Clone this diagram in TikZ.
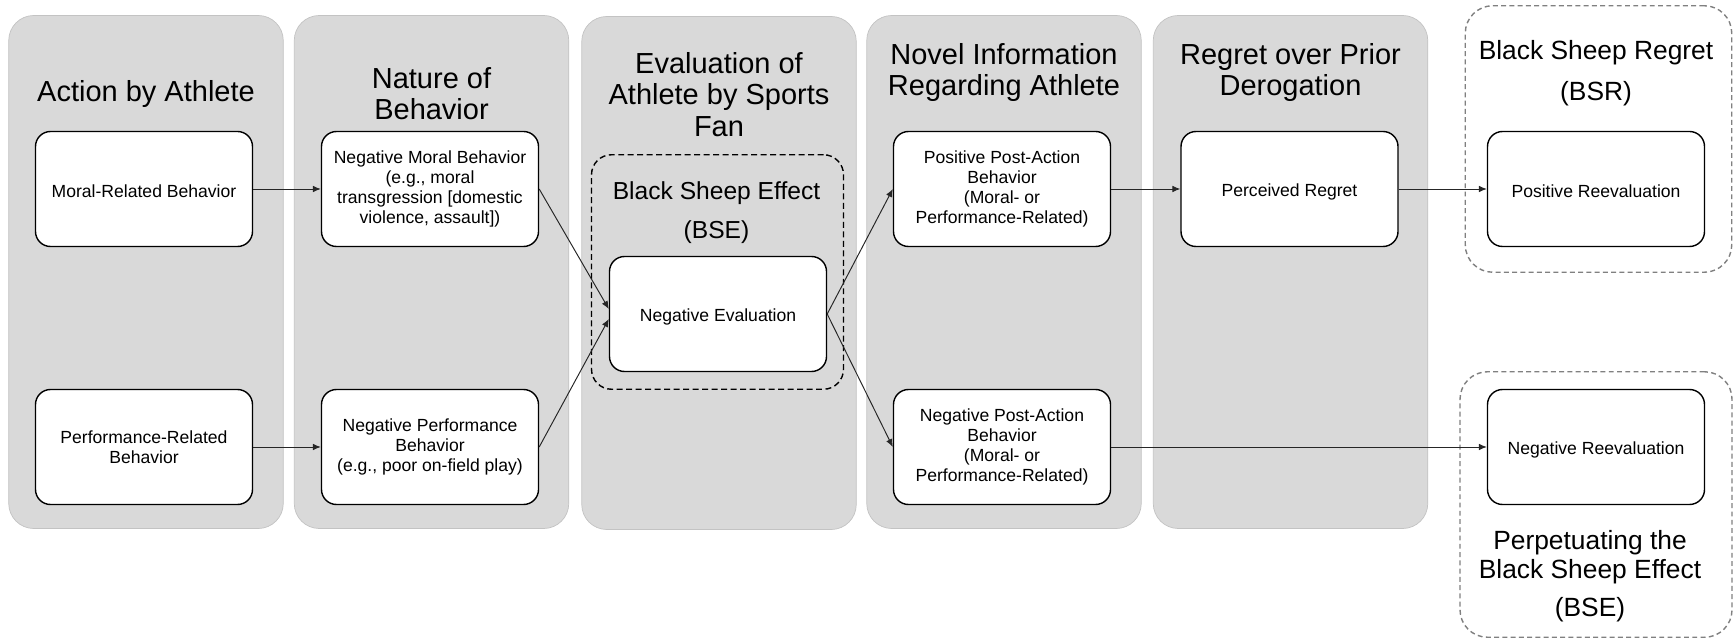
\documentclass[tikz,border=0pt]{standalone}
\usepackage{fontspec}
\setmainfont{Liberation Sans}
\usetikzlibrary{arrows.meta}
\definecolor{panelgray}{RGB}{217,217,217}
\definecolor{paneledge}{RGB}{195,195,195}
\definecolor{dashgray}{RGB}{128,128,128}

\begin{document}
\begin{tikzpicture}[x=1cm,y=1cm]
\tikzset{
  panel/.style={rectangle,rounded corners=0.5cm,fill=panelgray,draw=paneledge,line width=0.4pt,minimum width=5.49cm,minimum height=10.26cm,inner sep=0pt},
  stepbox/.style={rectangle,rounded corners=0.3cm,draw,line width=0.8pt,fill=white,minimum width=4.34cm,minimum height=2.30cm,align=center,inner sep=2pt,font=\fontsize{10}{11.5}\selectfont,execute at begin node={\rule{0pt}{10.2pt}}},
  grouptitle/.style={align=center,font=\fontsize{16.5}{18}\selectfont},
  effecttitle/.style={align=center,font=\fontsize{15}{16.5}\selectfont},
  innergroup/.style={rectangle,rounded corners=0.4cm,draw,line width=0.8pt,dash pattern=on 3.4pt off 2pt,inner sep=0pt},
  outergroup/.style={rectangle,rounded corners=0.55cm,draw=dashgray,line width=0.8pt,dash pattern=on 2.8pt off 1.9pt,inner sep=0pt},
  flow/.style={-{Latex[length=4.5pt,width=3.8pt]},line width=0.55pt,draw=black!85}
}
\useasboundingbox (0,0) rectangle (34.68,12.76);
\node[panel] (p_action) at (2.92,7.32) {};
\node[panel] (p_nature) at (8.63,7.32) {};
\node[panel] (p_eval) at (14.38,7.30) {};
\node[panel] (p_novel) at (20.08,7.32) {};
\node[panel] (p_regret) at (25.81,7.32) {};
\node[innergroup,minimum width=5.04cm,minimum height=4.69cm] (g_bse) at (14.35,7.32) {};
\node[outergroup,minimum width=5.33cm,minimum height=5.33cm] (g_bsr) at (31.97,9.98) {};
\node[outergroup,minimum width=5.44cm,minimum height=5.31cm] (g_perp) at (31.92,2.67) {};
\node[grouptitle] (t_action) at (2.92,10.88) {Action by Athlete};
\node[grouptitle] (t_nature) at (8.63,10.89) {Nature of\\Behavior};
\node[grouptitle] (t_eval) at (14.38,10.87) {Evaluation of\\Athlete by Sports\\Fan};
\node[grouptitle] (t_novel) at (20.08,11.31) {Novel Information\\Regarding Athlete};
\node[grouptitle] (t_regret) at (25.81,11.31) {Regret over Prior\\Derogation};
\node[effecttitle] (t_bsr) at (31.92,11.30) {Black Sheep Regret\\[7pt](BSR)};
\node[effecttitle,font=\fontsize{14}{15}\selectfont] (t_bse) at (14.33,8.51) {Black Sheep Effect\\[7pt](BSE)};
\node[effecttitle] (t_perp) at (31.80,1.24) {Perpetuating the\\Black Sheep Effect\\[5pt](BSE)};
\node[stepbox] (n_moral) at (2.88,8.98) {Moral-Related Behavior};
\node[stepbox] (n_perf) at (2.88,3.82) {Performance-Related\\Behavior};
\node[stepbox] (n_negmoral) at (8.60,8.98) {Negative Moral Behavior\\(e.g., moral\\transgression [domestic\\violence, assault])};
\node[stepbox] (n_negperf) at (8.60,3.82) {Negative Performance\\Behavior\\(e.g., poor on-field play)};
\node[stepbox] (n_negeval) at (14.36,6.48) {Negative Evaluation};
\node[stepbox] (n_pospost) at (20.04,8.98) {Positive Post-Action\\Behavior\\(Moral- or\\Performance-Related)};
\node[stepbox] (n_negpost) at (20.04,3.82) {Negative Post-Action\\Behavior\\(Moral- or\\Performance-Related)};
\node[stepbox] (n_regret) at (25.79,8.98) {Perceived Regret};
\node[stepbox] (n_posreeval) at (31.92,8.98) {Positive Reevaluation};
\node[stepbox] (n_negreeval) at (31.92,3.82) {Negative Reevaluation};
\draw[flow] (n_moral) -- (n_negmoral);
\draw[flow] (n_perf) -- (n_negperf);
\draw[flow] (n_negmoral.east) -- ([yshift=0.1cm]n_negeval.west);
\draw[flow] (n_negperf.east) -- ([yshift=-0.1cm]n_negeval.west);
\draw[flow] (n_negeval.east) -- (n_pospost.west);
\draw[flow] (n_negeval.east) -- (n_negpost.west);
\draw[flow] (n_pospost) -- (n_regret);
\draw[flow] (n_regret) -- (n_posreeval);
\draw[flow] (n_negpost) -- (n_negreeval);
\end{tikzpicture}
\end{document}
